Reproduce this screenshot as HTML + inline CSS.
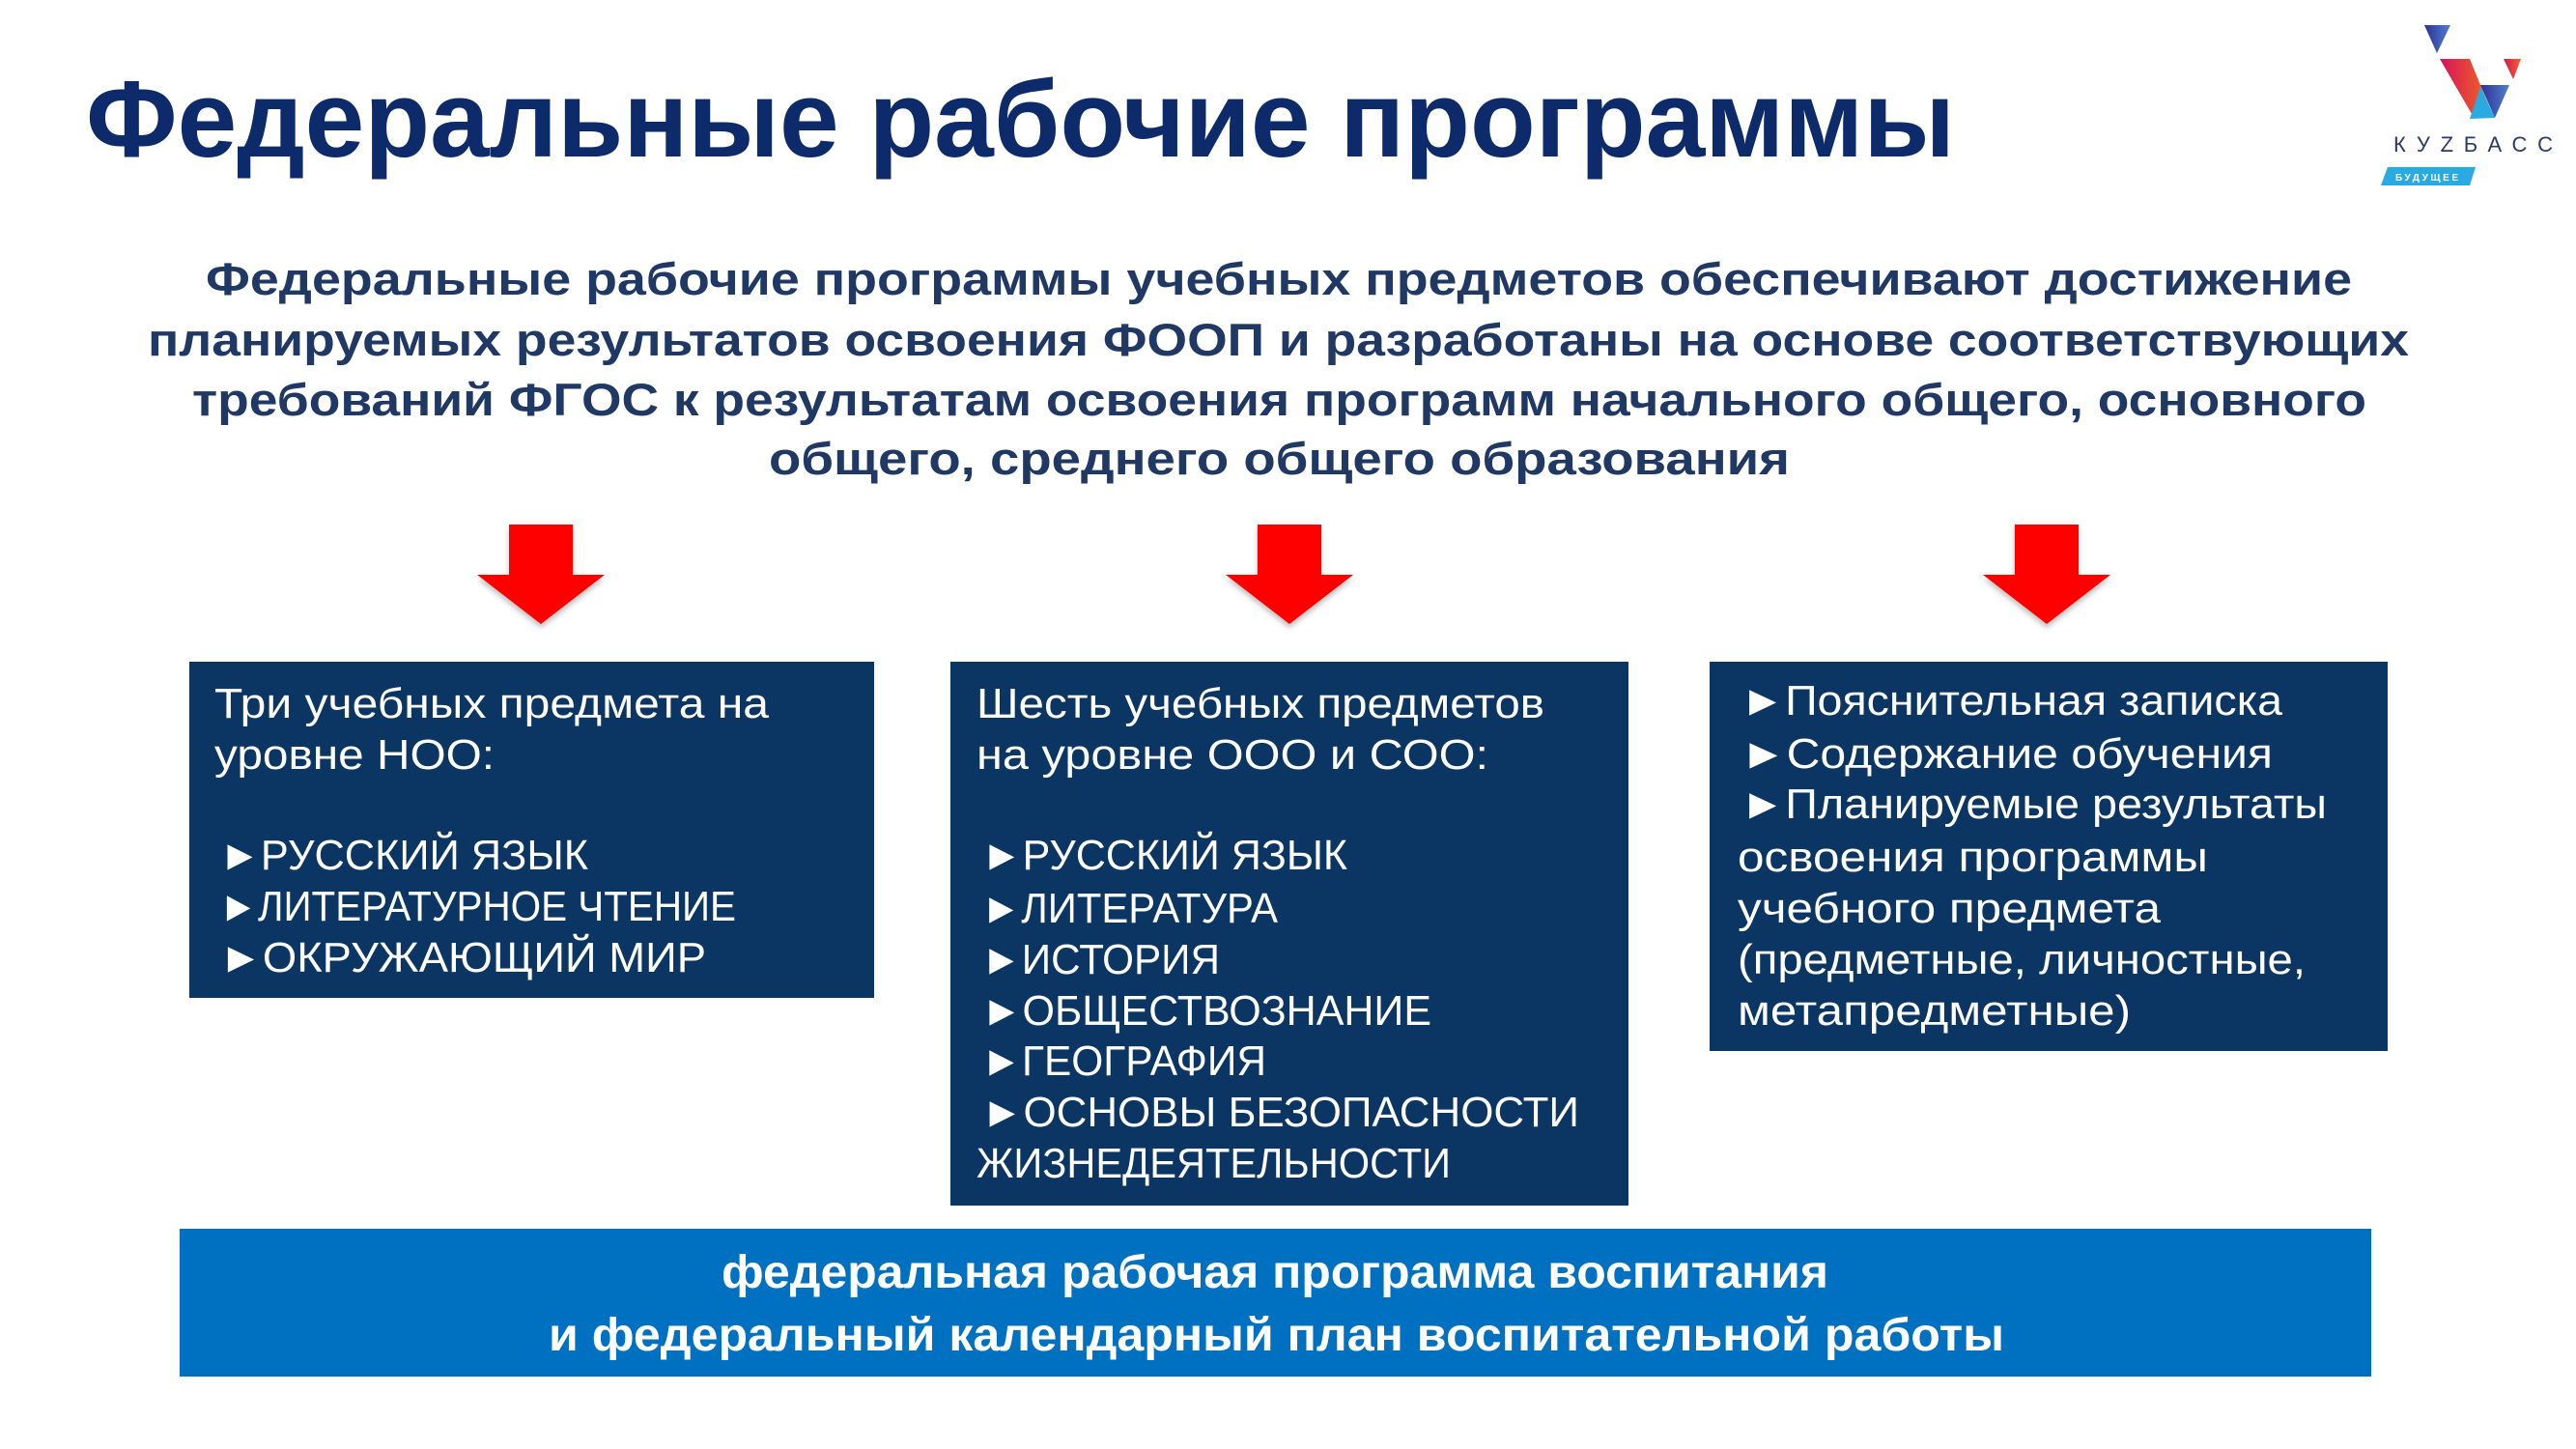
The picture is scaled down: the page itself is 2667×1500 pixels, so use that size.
<!DOCTYPE html>
<html><head><meta charset="utf-8"><style>
html,body{margin:0;padding:0;background:#fff}
svg{display:block}
.t{font-family:"Liberation Sans",sans-serif}
</style></head><body>
<svg width="2667" height="1500" viewBox="0 0 2667 1500" xmlns="http://www.w3.org/2000/svg">
<defs>
<linearGradient id="rg" x1="0" x2="1"><stop offset="0" stop-color="#d4145a"/><stop offset="1" stop-color="#f26522"/></linearGradient>
<linearGradient id="bg" x1="0" x2="1"><stop offset="0" stop-color="#2e3192"/><stop offset="1" stop-color="#4f7fd0"/></linearGradient>
<filter id="sh" x="-20%" y="-20%" width="140%" height="140%"><feDropShadow dx="0" dy="4" stdDeviation="3" flood-color="#000" flood-opacity="0.25"/></filter>
</defs>
<rect width="2667" height="1500" fill="#fff"/>
<g class="t" font-weight="bold" fill="#0d2a6b">
<text x="89" y="162" font-size="112" textLength="1935" lengthAdjust="spacingAndGlyphs">Федеральные рабочие программы</text>
</g>
<g class="t" font-weight="bold" fill="#1f3864" font-size="47">
<text x="213" y="305" textLength="2222" lengthAdjust="spacingAndGlyphs">Федеральные рабочие программы учебных предметов обеспечивают достижение</text>
<text x="153" y="368" textLength="2341" lengthAdjust="spacingAndGlyphs">планируемых результатов освоения ФООП и разработаны на основе соответствующих</text>
<text x="199" y="430" textLength="2251" lengthAdjust="spacingAndGlyphs">требований ФГОС к результатам освоения программ начального общего, основного</text>
<text x="796" y="491" textLength="1057" lengthAdjust="spacingAndGlyphs">общего, среднего общего образования</text>
</g>
<g fill="#ff0000" filter="url(#sh)">
<polygon points="527,543 593,543 593,595 626,595 560,646 494,595 527,595"/>
<polygon points="1302,543 1368,543 1368,595 1401,595 1335,646 1269,595 1302,595"/>
<polygon points="2086,543 2152,543 2152,595 2185,595 2119,646 2053,595 2086,595"/>
</g>
<rect x="196" y="685" width="709" height="348" fill="#0b3563"/>
<rect x="984" y="685" width="702" height="563" fill="#0b3563"/>
<rect x="1770" y="685" width="702" height="403" fill="#0b3563"/>
<g class="t" fill="#fff" font-size="44">
<text x="222" y="743" textLength="574" lengthAdjust="spacingAndGlyphs">Три учебных предмета на</text>
<text x="222" y="796" textLength="290" lengthAdjust="spacingAndGlyphs">уровне НОО:</text>
<text x="227" y="900" textLength="382" lengthAdjust="spacingAndGlyphs">►РУССКИЙ ЯЗЫК</text>
<text x="227" y="953" textLength="535" lengthAdjust="spacingAndGlyphs">►ЛИТЕРАТУРНОЕ ЧТЕНИЕ</text>
<text x="227" y="1006" textLength="504" lengthAdjust="spacingAndGlyphs">►ОКРУЖАЮЩИЙ МИР</text>

<text x="1011" y="743" textLength="588" lengthAdjust="spacingAndGlyphs">Шесть учебных предметов</text>
<text x="1011" y="796" textLength="530" lengthAdjust="spacingAndGlyphs">на уровне ООО и СОО:</text>
<text x="1016" y="900" textLength="379" lengthAdjust="spacingAndGlyphs">►РУССКИЙ ЯЗЫК</text>
<text x="1016" y="955" textLength="307" lengthAdjust="spacingAndGlyphs">►ЛИТЕРАТУРА</text>
<text x="1016" y="1008" textLength="247" lengthAdjust="spacingAndGlyphs">►ИСТОРИЯ</text>
<text x="1016" y="1061" textLength="466" lengthAdjust="spacingAndGlyphs">►ОБЩЕСТВОЗНАНИЕ</text>
<text x="1016" y="1113" textLength="295" lengthAdjust="spacingAndGlyphs">►ГЕОГРАФИЯ</text>
<text x="1016" y="1166" textLength="619" lengthAdjust="spacingAndGlyphs">►ОСНОВЫ БЕЗОПАСНОСТИ</text>
<text x="1011" y="1219" textLength="491" lengthAdjust="spacingAndGlyphs">ЖИЗНЕДЕЯТЕЛЬНОСТИ</text>

<text x="1802" y="740" textLength="561" lengthAdjust="spacingAndGlyphs">►Пояснительная записка</text>
<text x="1802" y="795" textLength="551" lengthAdjust="spacingAndGlyphs">►Содержание обучения</text>
<text x="1802" y="847" textLength="607" lengthAdjust="spacingAndGlyphs">►Планируемые результаты</text>
<text x="1799" y="902" textLength="487" lengthAdjust="spacingAndGlyphs">освоения программы</text>
<text x="1799" y="955" textLength="438" lengthAdjust="spacingAndGlyphs">учебного предмета</text>
<text x="1799" y="1008" textLength="588" lengthAdjust="spacingAndGlyphs">(предметные, личностные,</text>
<text x="1799" y="1061" textLength="407" lengthAdjust="spacingAndGlyphs">метапредметные)</text>
</g>
<rect x="186" y="1272" width="2269" height="153" fill="#0070c0"/>
<g class="t" fill="#fff" font-weight="bold" font-size="48">
<text x="747" y="1333" textLength="1146" lengthAdjust="spacingAndGlyphs">федеральная рабочая программа воспитания</text>
<text x="568" y="1398" textLength="1507" lengthAdjust="spacingAndGlyphs">и федеральный календарный план воспитательной работы</text>
</g>
<!-- logo -->
<polygon points="2510,26 2537,26 2523,55" fill="url(#bg)"/>
<polygon points="2526,61 2557,61 2577,110 2562,123" fill="url(#rg)"/>
<polygon points="2568,88 2598,88 2583,122" fill="url(#bg)"/>
<polygon points="2557,123 2568,90 2583,122" fill="#29abe2"/>
<polygon points="2592,61 2610,61 2602,82" fill="url(#rg)"/>
<text x="2478" y="157" class="t" font-size="22" fill="#2b3a67" textLength="165" lengthAdjust="spacing">КУZБАСС</text>
<polygon points="2472,173 2563,173 2557,192 2465,192" fill="#29abe2"/>
<text x="2480" y="187" class="t" font-size="10" font-weight="bold" fill="#fff" textLength="65" lengthAdjust="spacing">БУДУЩЕЕ</text>
</svg>
</body></html>
